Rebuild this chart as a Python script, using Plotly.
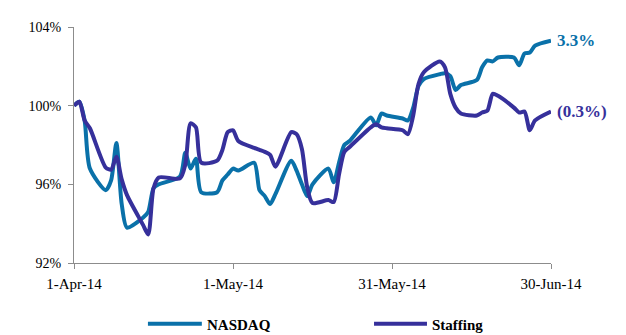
import plotly.graph_objects as go

dates = (
    ["2014-04-%02d" % d for d in [1, 2, 3, 4, 7, 8, 9, 10, 11, 14, 15, 16, 17, 21, 22, 23, 24, 25, 28, 29, 30]]
    + ["2014-05-%02d" % d for d in [1, 2, 5, 6, 7, 8, 9, 12, 13, 14, 15, 16, 19, 20, 21, 22, 23, 27, 28, 29, 30]]
    + ["2014-06-%02d" % d for d in [2, 3, 4, 5, 6, 9, 10, 11, 12, 13, 16, 17, 18, 19, 20, 23, 24, 25, 26, 27, 30]]
)

nasdaq = [
    100.0, 100.2, 99.25, 96.8, 95.7, 96.2, 98.1, 95.0, 93.8, 94.3, 94.6, 95.8, 96.0, 96.4, 97.6, 96.8, 97.3, 95.6, 95.6, 96.2, 96.5,
    96.8, 96.7, 97.1, 95.7, 95.4, 95.0, 95.5, 97.2, 96.7, 96.0, 95.4, 96.0, 96.8, 96.1, 97.1, 98.0, 98.2, 99.4, 99.0, 99.6, 99.5,
    99.35, 99.25, 99.9, 101.0, 101.35, 101.6, 101.65, 101.5, 100.8, 101.05, 101.3, 101.95, 102.3, 102.25, 102.45, 102.45, 102.05, 102.65, 102.7, 103.05, 103.3,
]

staffing = [
    100.0, 100.2, 99.25, 98.85, 96.85, 96.75, 97.4, 96.25, 95.45, 93.95, 93.45, 95.8, 96.35, 96.3, 97.0, 99.1, 98.9, 97.1, 97.2, 97.75, 98.65,
    98.75, 98.2, 97.85, 97.75, 97.65, 97.5, 96.9, 98.65, 98.55, 97.8, 95.85, 95.05, 95.2, 95.1, 96.5, 97.65, 97.9, 98.9, 99.05, 98.9, 98.85,
    98.75, 98.55, 99.5, 101.1, 101.7, 102.25, 101.95, 100.6, 99.9, 99.6, 99.5, 99.65, 99.75, 100.6, 100.5, 99.9, 99.65, 99.7, 98.75, 99.25, 99.7,
]

series_names = ["NASDAQ", "Staffing"]
series_colors = ["#0A71A9", "#36309B"]

x_tick_vals = ["2014-04-01", "2014-05-01", "2014-05-31", "2014-06-30"]
x_tick_text = ["1-Apr-14", "1-May-14", "31-May-14", "30-Jun-14"]
y_tick_vals = [92, 96, 100, 104]
y_tick_text = ["92%", "96%", "100%", "104%"]

FONT = "Liberation Serif, Times New Roman, serif"
AXIS_GRAY = "#8C8C8C"


def change_label(v):
    c = v - 100
    return f"{c:.1f}%" if c >= 0 else f"({-c:.1f}%)"


fig = go.Figure()
for name, vals, col in zip(series_names, [nasdaq, staffing], series_colors):
    fig.add_trace(go.Scatter(
        x=dates, y=vals, name=name, mode="lines",
        line=dict(color=col, width=4, shape="spline", smoothing=0.7),
        showlegend=False,
    ))
    fig.add_annotation(
        x=dates[-1], y=vals[-1], xref="x", yref="y",
        text="<b>" + change_label(vals[-1]) + "</b>",
        showarrow=False, xanchor="left", yanchor="middle", xshift=4,
        font=dict(family=FONT, size=17, color=col),
    )

# manual legend (line sample + bold label) below the axis
legend_x = [(0.155, 0.268), (0.629, 0.740)]
for (x0, x1), name, col in zip(legend_x, series_names, series_colors):
    fig.add_shape(type="line", xref="paper", yref="paper", x0=x0, x1=x1,
                  y0=-0.257, y1=-0.257, line=dict(color=col, width=4))
    fig.add_annotation(
        x=x1, y=-0.264, xref="paper", yref="paper", text="<b>" + name + "</b>",
        showarrow=False, xanchor="left", yanchor="middle", xshift=3,
        font=dict(family=FONT, size=15, color="black"),
    )

fig.update_xaxes(
    type="date", range=["2014-04-01", "2014-06-30"],
    tickmode="array", tickvals=x_tick_vals, ticktext=x_tick_text,
    showline=True, linecolor=AXIS_GRAY, linewidth=1.2,
    ticks="outside", ticklen=5, tickcolor=AXIS_GRAY, tickwidth=1.2,
    ticklabelstandoff=2,
    showgrid=False, zeroline=False,
    tickfont=dict(family=FONT, size=15, color="black"),
)
fig.update_yaxes(
    range=[92, 104], tickmode="array", tickvals=y_tick_vals, ticktext=y_tick_text,
    showline=True, linecolor=AXIS_GRAY, linewidth=1.2,
    ticks="outside", ticklen=5, tickcolor=AXIS_GRAY, tickwidth=1.2,
    ticklabelstandoff=4,
    showgrid=False, zeroline=False,
    tickfont=dict(family=FONT, size=14, color="black"),
)
fig.update_layout(
    width=618, height=327,
    margin=dict(l=66, r=75, t=13, b=72),
    paper_bgcolor="white", plot_bgcolor="white",
    font=dict(family=FONT),
)
fig.write_html("out.html")
